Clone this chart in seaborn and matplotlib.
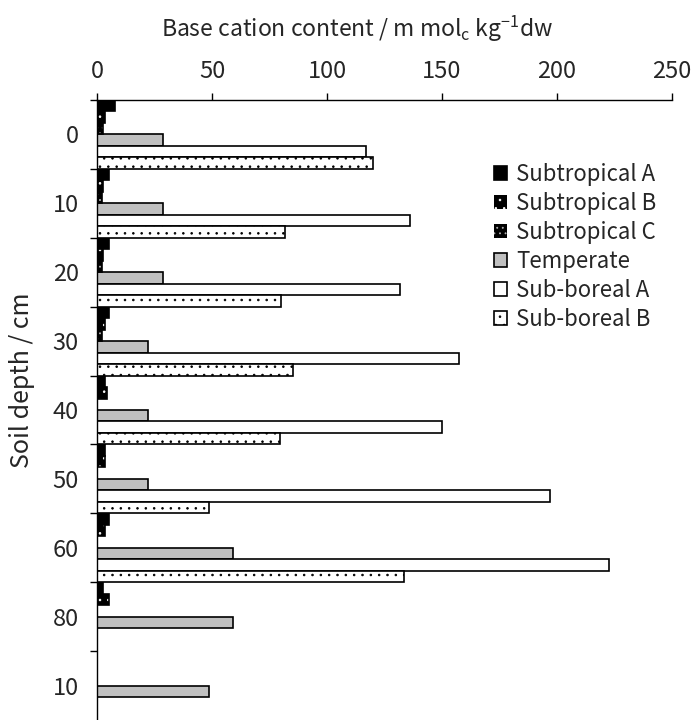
import numpy as np
import pandas as pd
import matplotlib
matplotlib.use("Agg")
import matplotlib.pyplot as plt
import seaborn as sns
from matplotlib.patches import Patch, Rectangle

# ---- data ----
depths = ["0", "10", "20", "30", "40", "50", "60", "80", "100"]
depth_labels = ["0", "10", "20", "30", "40", "50", "60", "80", "10"]
series = ["Subtropical A", "Subtropical B", "Subtropical C",
          "Temperate", "Sub-boreal A", "Sub-boreal B"]
subtropical_a = [7.8, 5.2, 5.2, 5.2, 3.5, 3.5, 5.2, 2.5, 0]
subtropical_b = [3.5, 2.7, 2.7, 3.5, 4.2, 3.5, 3.5, 5.2, 0]
subtropical_c = [2.7, 2.0, 2.0, 2.0, 0, 0, 0, 0, 0]
temperate = [28.5, 28.5, 28.7, 22, 22, 22, 59.3, 59.3, 48.8]
sub_boreal_a = [116.8, 136, 131.8, 157.3, 149.9, 197, 222.5, 0, 0]
sub_boreal_b = [120.1, 81.7, 80, 85, 79.6, 48.7, 133.6, 0, 0]
x_ticks = [0, 50, 100, 150, 200, 250]

values = [subtropical_a, subtropical_b, subtropical_c,
          temperate, sub_boreal_a, sub_boreal_b]
df = pd.DataFrame({
    "depth": np.tile(depths, len(series)),
    "series": np.repeat(series, len(depths)),
    "value": np.concatenate(values),
})

sns.set_style("white")
plt.rcParams["font.family"] = ["Noto Sans CJK JP", "DejaVu Sans"]
plt.rcParams["mathtext.fontset"] = "custom"
plt.rcParams["mathtext.rm"] = "Noto Sans CJK JP"
plt.rcParams["mathtext.it"] = "Noto Sans CJK JP"
plt.rcParams["hatch.linewidth"] = 0.6

# styles: face, hatch, hatch colour
styles = {
    "Subtropical A": ("black", None, None),
    "Subtropical B": ("black", "..", "white"),
    "Subtropical C": ("black", "...", "#b0b0b0"),
    "Temperate": ("#c0c0c0", None, None),
    "Sub-boreal A": ("white", None, None),
    "Sub-boreal B": ("white", "..", "black"),
}

fig = plt.figure(figsize=(6.97, 7.20), dpi=100)
ax = fig.add_axes([97 / 697, 0.0, 575 / 697, 620 / 720])

sns.barplot(data=df, y="depth", x="value", hue="series", order=depths,
            hue_order=series, orient="h", width=1.0, ax=ax,
            errorbar=None, legend=False, saturation=1)

lw = 1.2
for cont, name in zip(ax.containers, series):
    face, hatch, hcol = styles[name]
    for bar in cont:
        bar.set_facecolor(face)
        if hatch and hcol != "black":
            bar.set_hatch(hatch)
            bar.set_edgecolor(hcol)
            bar.set_linewidth(0)
            if bar.get_width() > 0:
                ax.add_patch(Rectangle(bar.get_xy(), bar.get_width(), bar.get_height(),
                                       fill=False, edgecolor="black", linewidth=lw,
                                       zorder=bar.get_zorder() + 0.1))
        else:
            if hatch:
                bar.set_hatch(hatch)
            bar.set_edgecolor("black")
            bar.set_linewidth(lw if bar.get_width() > 0 else 0)

ax.set_xlim(0, 250)
ax.set_ylim(len(depths) - 0.5, -0.5)
ax.xaxis.tick_top()
ax.set_xticks(x_ticks)
ax.set_xticklabels([str(t) for t in x_ticks])
ax.set_xlabel("")
ax.set_ylabel("")
ax.set_yticks(range(len(depths)))
ax.set_yticklabels(depth_labels)
ax.set_yticks(np.arange(-0.5, len(depths) - 0.5, 1.0), minor=True)
ax.tick_params(axis="y", which="major", length=0, pad=13, labelsize=17)
ax.tick_params(axis="y", which="minor", length=5, width=1.0, color="black",
               direction="out", left=True)
ax.tick_params(axis="x", which="major", length=5, width=1.0, color="black",
               direction="out", top=True, bottom=False, pad=7, labelsize=17)
for s in ["right", "bottom"]:
    ax.spines[s].set_visible(False)
for s in ["top", "left"]:
    ax.spines[s].set_color("black")
    ax.spines[s].set_linewidth(1.0)
ax.grid(False)

fig.text(357 / 697, 1 - 29 / 720,
         r"Base cation content / m mol$_{\mathrm{c}}$ kg$^{-1}$dw",
         ha="center", va="center", fontsize=16.5)
fig.text(22 / 697, 1 - 380 / 720, "Soil depth / cm", rotation=90,
         ha="center", va="center", fontsize=18)

handles = []
for name in series:
    face, hatch, hcol = styles[name]
    if hatch and hcol != "black":
        handles.append(Patch(facecolor=face, edgecolor=hcol, hatch=hatch, linewidth=0))
    else:
        handles.append(Patch(facecolor=face, edgecolor="black", hatch=hatch, linewidth=lw))
fig.legend(handles, series, loc="upper left",
           bbox_to_anchor=(494 / 697, 1 - 163 / 720), frameon=False,
           fontsize=16, handlelength=0.6, handleheight=0.6, handletextpad=0.4,
           labelspacing=0.27, borderpad=0, borderaxespad=0)

fig.savefig("out.png", dpi=100)
